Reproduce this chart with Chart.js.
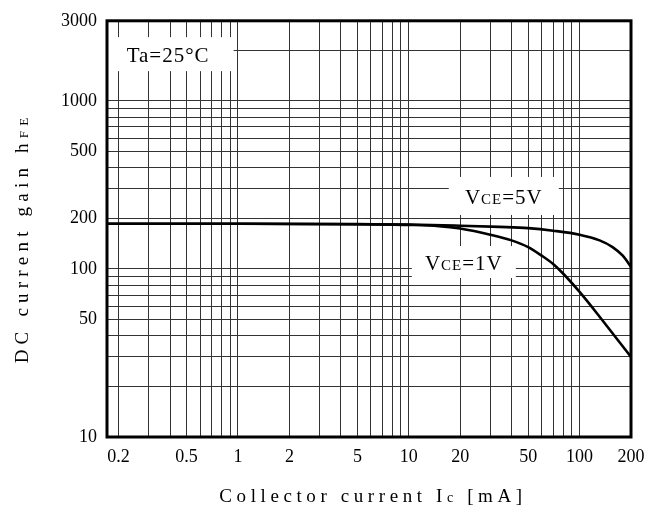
<!DOCTYPE html>
<html>
<head>
<meta charset="utf-8">
<script src="https://cdn.jsdelivr.net/npm/chart.js@4.4.1/dist/chart.umd.min.js"></script>
<style>
  html, body { margin: 0; background: #fff; }
  #wrap { width: 656px; height: 508px; }
</style>
</head>
<body>
<div id="wrap"><canvas id="chart"></canvas></div>
<script>
// hFE vs Ic curves
const ic5V = [0.171, 1, 10, 20, 34, 50, 70, 100, 131, 156, 179, 200]
const hfe5V = [186, 186, 184, 181, 178, 175, 169, 160, 148, 135, 120, 103]
const ic1V = [0.171, 1, 5, 10, 15, 20, 30, 40, 50, 60, 70, 80, 100, 131, 170, 200]
const hfe1V = [186, 186, 185, 183, 180, 174, 160, 148, 135, 120, 107, 94, 73, 52, 37, 30]

// grid lines and labelled ticks
const xGrid = [0.2, 0.3, 0.4, 0.5, 0.6, 0.7, 0.8, 0.9, 1, 2, 3, 4, 5, 6, 7, 8, 9,
  10, 20, 30, 40, 50, 60, 70, 80, 90, 100, 200]
const xLabels = [0.2, 0.5, 1, 2, 5, 10, 20, 50, 100, 200]
const yGrid = [10, 20, 30, 40, 50, 60, 70, 80, 90, 100, 200, 300, 400, 500, 600, 700, 800, 900,
  1000, 2000, 3000]
const yLabels = [10, 50, 100, 200, 500, 1000, 3000]

const SERIF = "'Liberation Serif', 'DejaVu Serif', serif"

// draw text made of parts with different sizes (for subscripts like VCE, hFE)
function richText(ctx, parts, x, y, align, spacing) {
  ctx.save()
  ctx.letterSpacing = spacing + "px"
  let total = 0
  parts.forEach(p => {
    ctx.font = p.size + "px " + SERIF
    p.w = ctx.measureText(p.t).width
    total += p.w
  })
  let cx = align === "center" ? x - total / 2 : x
  ctx.fillStyle = "#000"
  ctx.textAlign = "left"
  ctx.textBaseline = "alphabetic"
  parts.forEach(p => {
    ctx.font = p.size + "px " + SERIF
    ctx.fillText(p.t, cx, y)
    cx += p.w
  })
  ctx.restore()
}

// text labels inside the plot, anchored at data values
const notes = [
  { x: 0.39, y: 1900, w: 131, h: 34, parts: [{ t: "Ta=25°C", size: 21 }] },
  { x: 36, y: 272, w: 110, h: 38, parts: [{ t: "V", size: 21 }, { t: "CE", size: 15 }, { t: "=5V", size: 21 }] },
  { x: 21, y: 110, w: 104, h: 32, parts: [{ t: "V", size: 21 }, { t: "CE", size: 15 }, { t: "=1V", size: 21 }] }
]

const decor = {
  id: "decor",
  beforeDraw(chart) {
    const ctx = chart.ctx
    ctx.save()
    ctx.fillStyle = "#fff"
    ctx.fillRect(0, 0, chart.width, chart.height)
    ctx.restore()
  },
  beforeDatasetsDraw(chart) {
    const ctx = chart.ctx
    const xs = chart.scales.x, ys = chart.scales.y
    notes.forEach(n => {
      const px = xs.getPixelForValue(n.x)
      const py = ys.getPixelForValue(n.y)
      ctx.save()
      ctx.fillStyle = "#fff"
      ctx.fillRect(px - n.w / 2, py - n.h / 2, n.w, n.h)
      ctx.restore()
      richText(ctx, n.parts, px, py + 8, "center", 1)
    })
  },
  afterDraw(chart) {
    const ctx = chart.ctx
    const a = chart.chartArea
    ctx.save()
    ctx.strokeStyle = "#000"
    ctx.lineWidth = 3
    ctx.strokeRect(a.left, a.top, a.right - a.left, a.bottom - a.top)
    ctx.restore()

    // axis titles
    richText(ctx, [{ t: "Collector current I", size: 19 }, { t: "c", size: 14 }, { t: " [mA]", size: 19 }],
      (a.left + a.right) / 2 + 4, 502, "center", 4.6)
    ctx.save()
    ctx.translate(28, 238)
    ctx.rotate(-Math.PI / 2)
    richText(ctx, [{ t: "DC current gain h", size: 19 }, { t: "FE", size: 13 }], 0, 0, "center", 5.2)
    ctx.restore()
  }
}

const gridStyle = { color: "#333", lineWidth: 1, drawTicks: false }

new Chart(document.getElementById("chart"), {
  type: "line",
  data: {
    datasets: [
      {
        label: "VCE=5V",
        data: ic5V.map((x, i) => ({ x: x, y: hfe5V[i] })),
        borderColor: "#000",
        borderWidth: 2.6,
        pointRadius: 0,
        cubicInterpolationMode: "monotone",
        fill: false
      },
      {
        label: "VCE=1V",
        data: ic1V.map((x, i) => ({ x: x, y: hfe1V[i] })),
        borderColor: "#000",
        borderWidth: 2.6,
        pointRadius: 0,
        cubicInterpolationMode: "monotone",
        fill: false
      }
    ]
  },
  options: {
    responsive: true,
    maintainAspectRatio: false,
    animation: false,
    layout: { padding: { top: 19, right: 25, left: 0, bottom: 0 } },
    plugins: {
      legend: { display: false },
      tooltip: { enabled: false }
    },
    scales: {
      x: {
        type: "logarithmic",
        min: 0.171,
        max: 200,
        afterBuildTicks: (s) => { s.ticks = xGrid.map(v => ({ value: v })) },
        afterFit: (s) => { s.height = 71 },
        ticks: {
          autoSkip: false,
          maxRotation: 0,
          minRotation: 0,
          padding: 9,
          color: "#000",
          font: { family: SERIF, size: 18 },
          callback: (v) => xLabels.includes(v) ? String(v) : ""
        },
        grid: gridStyle,
        border: { display: false }
      },
      y: {
        type: "logarithmic",
        min: 10,
        max: 3000,
        afterBuildTicks: (s) => { s.ticks = yGrid.map(v => ({ value: v })) },
        afterFit: (s) => { s.width = 107 },
        ticks: {
          autoSkip: false,
          padding: 10,
          color: "#000",
          font: { family: SERIF, size: 18 },
          callback: (v) => yLabels.includes(v) ? String(v) : ""
        },
        grid: gridStyle,
        border: { display: false }
      }
    }
  },
  plugins: [decor]
})
</script>
</body>
</html>
